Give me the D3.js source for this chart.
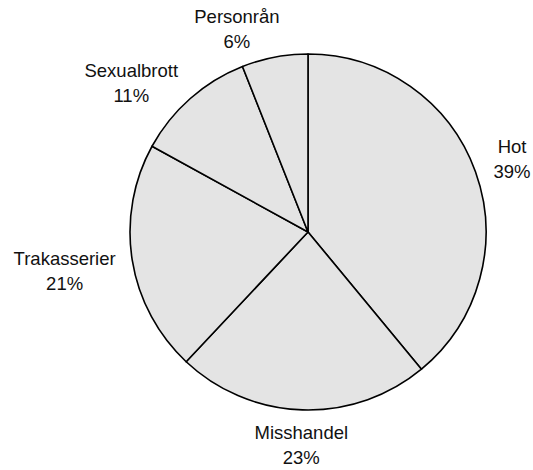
<!DOCTYPE html>
<html>
<head>
<meta charset="utf-8">
<script src="https://cdn.jsdelivr.net/npm/d3@7"></script>
<style>
  body { margin: 0; background: #fff; }
  text { font-family: "Liberation Sans", Arial, sans-serif; font-size: 18.5px; fill: #111; }
</style>
</head>
<body>
<script>
// Slices, clockwise from twelve o'clock
var categories = ["Hot", "Misshandel", "Trakasserier", "Sexualbrott", "Personrån"];
var shares = [39, 23, 21, 11, 6];
var shareLabels = ["39%", "23%", "21%", "11%", "6%"];

var width = 533, height = 470;
var cx = 308, cy = 232, radius = 178;
var lineGap = 25, capHeight = 13;
var labelGap = 15, tightGap = 5, minTop = 10, pad = 16;

var data = categories.map(function(c, i) {
    return { name: c, value: shares[i], label: shareLabels[i] };
});

var svg = d3.select("body").append("svg")
    .attr("width", width)
    .attr("height", height);

var g = svg.append("g")
    .attr("transform", "translate(" + cx + "," + cy + ")");

var pie = d3.pie().sort(null).value(function(d) { return d.value; });
var arc = d3.arc().innerRadius(0).outerRadius(radius);
var arcs = pie(data);

g.selectAll("path.slice")
    .data(arcs)
    .enter().append("path")
    .attr("class", "slice")
    .attr("d", arc)
    .attr("fill", "#e4e4e4")
    .attr("stroke", "#000")
    .attr("stroke-width", 1.6)
    .attr("stroke-linejoin", "round");

// labels: two lines, measured first, then placed outside the rim
var labels = g.selectAll("text.lbl")
    .data(arcs)
    .enter().append("text")
    .attr("class", "lbl")
    .attr("text-anchor", "middle");

labels.append("tspan").attr("x", 0).attr("dy", 0).text(function(d) { return d.data.name; });
labels.append("tspan").attr("x", 0).attr("dy", lineGap).text(function(d) { return d.data.label; });

var boxes = [];
labels.each(function(d) {
    var hw = 0;
    d3.select(this).selectAll("tspan").each(function() {
        hw = Math.max(hw, this.getComputedTextLength() / 2);
    });
    boxes.push({ hw: hw, hh: (lineGap + capHeight) / 2, a: (d.startAngle + d.endAngle) / 2, gap: labelGap });
});

function place(b) {
    var dx = Math.sin(b.a), dy = -Math.cos(b.a);
    var dist = radius + b.gap + Math.abs(dx) * b.hw + Math.abs(dy) * b.hh;
    b.x = dx * dist;
    b.y = dy * dist;
}

function overlaps(p, q) {
    return Math.abs(p.x - q.x) < p.hw + q.hw + pad && Math.abs(p.y - q.y) < p.hh + q.hh + pad;
}

var step = Math.PI / 720;
boxes.forEach(function(b) {
    place(b);
    // keep inside the top edge: hug the rim, then slide round it
    if (cy + b.y - b.hh < minTop) {
        b.gap = tightGap;
        place(b);
    }
    var n = 0;
    while (cy + b.y - b.hh < minTop && n++ < 720) {
        b.a += Math.sin(b.a) < 0 ? -step : step;
        place(b);
    }
});

// resolve collisions, last slice first, pushing counter-clockwise
for (var i = boxes.length - 2; i >= 0; i--) {
    if (overlaps(boxes[i], boxes[i + 1])) {
        boxes[i].gap = tightGap;
        place(boxes[i]);
    }
    var n = 0;
    while (overlaps(boxes[i], boxes[i + 1]) && n++ < 720) {
        boxes[i].a -= step;
        place(boxes[i]);
    }
}

labels.attr("transform", function(d, i) {
    var b = boxes[i];
    return "translate(" + b.x + "," + (b.y - b.hh + capHeight) + ")";
});
</script>
</body>
</html>
